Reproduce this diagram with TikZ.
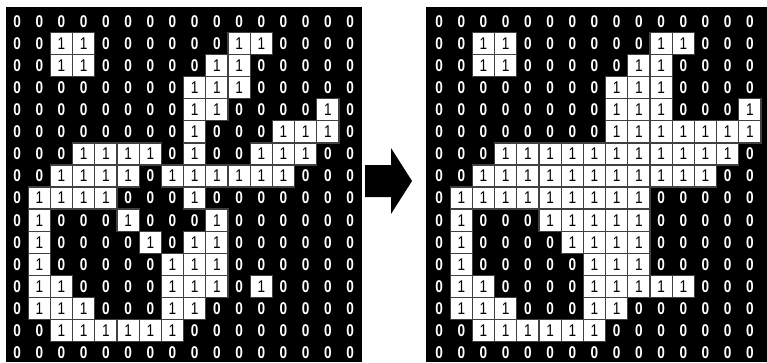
\documentclass[tikz,border=0pt]{standalone}
\usepackage{fontspec}
\setmainfont{Liberation Sans}
\usetikzlibrary{positioning}

% cell values, one row per line
\newcommand\gridBefore{%
{0,0,0,0,0,0,0,0,0,0,0,0,0,0,0,0},
{0,0,1,1,0,0,0,0,0,0,1,1,0,0,0,0},
{0,0,1,1,0,0,0,0,0,1,1,0,0,0,0,0},
{0,0,0,0,0,0,0,0,1,1,1,0,0,0,0,0},
{0,0,0,0,0,0,0,0,1,1,0,0,0,0,1,0},
{0,0,0,0,0,0,0,0,1,0,0,0,1,1,1,0},
{0,0,0,1,1,1,1,0,1,0,0,1,1,1,0,0},
{0,0,1,1,1,1,0,1,1,1,1,1,1,0,0,0},
{0,1,1,1,1,0,0,0,1,0,0,0,0,0,0,0},
{0,1,0,0,0,1,0,0,0,1,0,0,0,0,0,0},
{0,1,0,0,0,0,1,0,1,1,0,0,0,0,0,0},
{0,1,0,0,0,0,0,1,1,1,0,0,0,0,0,0},
{0,1,1,0,0,0,0,1,1,1,0,1,0,0,0,0},
{0,1,1,1,0,0,0,1,1,0,0,0,0,0,0,0},
{0,0,1,1,1,1,1,1,0,0,0,0,0,0,0,0},
{0,0,0,0,0,0,0,0,0,0,0,0,0,0,0,0}}
% right grid runs off the page after column 14
\newcommand\gridAfter{%
{0,0,0,0,0,0,0,0,0,0,0,0,0,0,0},
{0,0,1,1,0,0,0,0,0,0,1,1,0,0,0},
{0,0,1,1,0,0,0,0,0,1,1,0,0,0,0},
{0,0,0,0,0,0,0,0,1,1,1,0,0,0,0},
{0,0,0,0,0,0,0,0,1,1,1,0,0,0,1},
{0,0,0,0,0,0,0,0,1,1,1,1,1,1,1},
{0,0,0,1,1,1,1,1,1,1,1,1,1,1,0},
{0,0,1,1,1,1,1,1,1,1,1,1,1,0,0},
{0,1,1,1,1,1,1,1,1,1,0,0,0,0,0},
{0,1,0,0,0,1,1,1,1,1,0,0,0,0,0},
{0,1,0,0,0,0,1,1,1,1,0,0,0,0,0},
{0,1,0,0,0,0,0,1,1,1,0,0,0,0,0},
{0,1,1,0,0,0,0,1,1,1,1,1,0,0,0},
{0,1,1,1,0,0,0,1,1,0,0,0,0,0,0},
{0,0,1,1,1,1,1,1,0,0,0,0,0,0,0},
{0,0,0,0,0,0,0,0,0,0,0,0,0,0,0}}

\begin{document}
\begin{tikzpicture}[x=1pt, y=-1pt,
  one/.style={draw=black!75, line width=1.3pt, fill=white, text=black,
              minimum width=22.2pt, minimum height=22.07pt, inner sep=0pt,
              font=\fontsize{17}{17}\selectfont},
  zero/.style={text=white, minimum width=22.2pt, minimum height=22.07pt,
               inner sep=0pt, font=\fontsize{17}{17}\selectfont\bfseries},
]
  \useasboundingbox (0,0) rectangle (767,362);
  \fill[white] (0,0) rectangle (767,362);
  \clip (0,0) rectangle (767,362);

  \fill[black] (6,7) rectangle (362,362);
  \fill[black] (426,7) rectangle (790,362);

  % before
  \foreach \row [count=\r from 0] in \gridBefore {
    \foreach \v [count=\c from 0] in \row {
      \ifnum\v=1
        \node[one] (L-\r-\c) at ({6+22.2*\c+11.1},{10.5+22.07*\r+11.03}) {\scalebox{.8}[1]{1}};
      \else
        \node[zero] (L-\r-\c) at ({6+22.2*\c+11.1},{10.5+22.07*\r+11.03}) {\scalebox{.8}[1]{0}};
      \fi
    }
  }

  % after
  \foreach \row [count=\r from 0] in \gridAfter {
    \foreach \v [count=\c from 0] in \row {
      \ifnum\v=1
        \node[one] (R-\r-\c) at ({428+22.2*\c+11.1},{10.5+22.07*\r+11.03}) {\scalebox{.8}[1]{1}};
      \else
        \node[zero] (R-\r-\c) at ({428+22.2*\c+11.1},{10.5+22.07*\r+11.03}) {\scalebox{.8}[1]{0}};
      \fi
    }
  }

  \fill[black] (365,165) -- (391,165) -- (391,148) -- (412,181)
    -- (391,214) -- (391,197) -- (365,197) -- cycle;
\end{tikzpicture}
\end{document}
